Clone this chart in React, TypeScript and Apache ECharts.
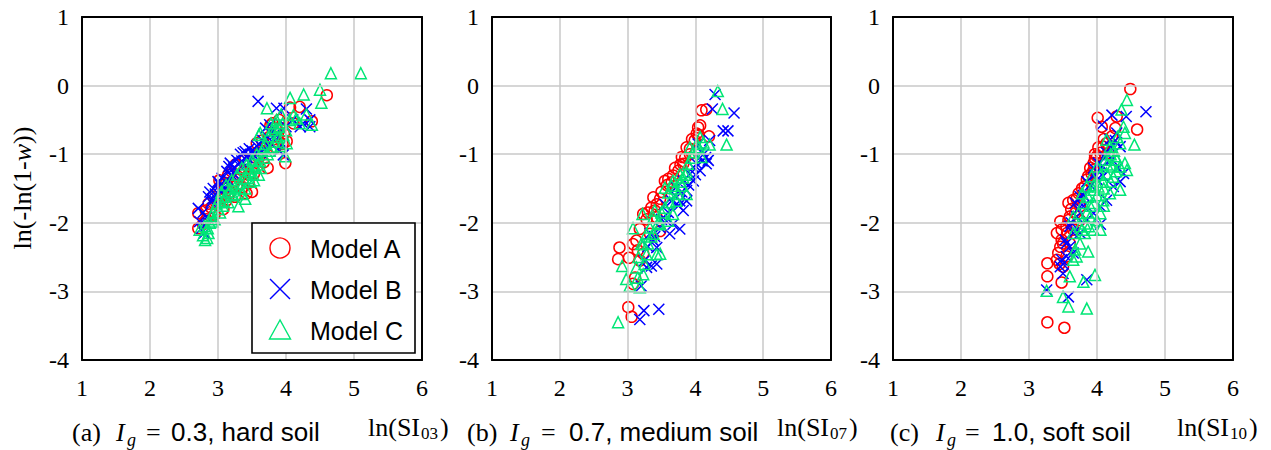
import React, { useEffect, useRef } from "react";
import * as echarts from "echarts";

// ---------- data ----------
const X_MIN = 1, X_MAX = 6, Y_MIN = -4, Y_MAX = 1, TICK_STEP = 1;

const PANEL_LETTERS = ["(a)", "(b)", "(c)"];
const IG_VALUES = ["0.3", "0.7", "1.0"];
const SOIL_LABELS = ["hard soil", "medium soil", "soft soil"];
const SI_SUBSCRIPTS = ["03", "07", "10"];
const MODEL_NAMES = ["Model A", "Model B", "Model C"];

// Panel (a) Ig = 0.3
const modelA_a = [
  [2.71, -1.86], [2.71, -2.08], [2.78, -2.02], [2.83, -1.95], [2.86, -1.72], [2.9, -1.78], [2.93, -1.62], [2.97, -1.7],
  [3.0, -1.52], [3.02, -1.38], [3.05, -1.6], [3.08, -1.8], [3.1, -1.5], [3.12, -1.42], [3.15, -1.3], [3.18, -1.55],
  [3.2, -1.25], [3.23, -1.4], [3.26, -1.15], [3.3, -1.33], [3.33, -1.22], [3.36, -1.48], [3.4, -1.08], [3.42, -1.57],
  [3.45, -1.3], [3.48, -1.0], [3.5, -1.2], [3.53, -1.28], [3.57, -0.84], [3.6, -1.05], [3.63, -0.95], [3.67, -1.12],
  [3.7, -0.9], [3.73, -1.2], [3.77, -0.58], [3.8, -0.55], [3.82, -0.78], [3.85, -0.9], [3.88, -0.7], [3.92, -0.62],
  [3.95, -0.85], [3.99, -1.13], [4.01, -0.81], [4.06, -0.32], [4.11, -0.55], [4.2, -0.31], [4.38, -0.52], [4.6, -0.14],
  [3.5, -1.55], [3.25, -1.62], [2.95, -1.88], [3.05, -1.45], [3.15, -1.62], [3.28, -1.45], [3.38, -1.25], [3.55, -1.1],
  [3.65, -0.8], [3.75, -0.75], [3.85, -0.62], [3.9, -0.5], [3.97, -0.7], [2.82, -1.82], [3.12, -1.68], [3.45, -1.42],
];
const modelB_a = [
  [2.71, -1.79], [2.73, -1.98], [2.76, -2.08], [2.8, -2.15], [2.83, -1.92], [2.86, -1.62], [2.88, -1.55], [2.9, -1.7],
  [2.93, -1.5], [2.96, -1.58], [3.0, -1.4], [3.03, -1.45], [3.06, -1.35], [3.1, -1.48], [3.13, -1.25], [3.16, -1.18],
  [3.18, -1.13], [3.2, -1.3], [3.23, -1.2], [3.27, -1.08], [3.3, -1.15], [3.33, -1.0], [3.37, -0.98], [3.4, -0.96],
  [3.43, -1.05], [3.46, -0.92], [3.5, -0.95], [3.53, -1.02], [3.57, -0.88], [3.6, -0.85], [3.63, -0.98], [3.66, -0.8],
  [3.7, -0.62], [3.73, -0.75], [3.59, -0.23], [3.86, -0.33], [3.97, -0.33], [3.96, -1.01], [4.21, -0.6], [4.3, -0.34],
  [4.35, -0.5], [4.35, -0.6], [4.25, -0.55], [3.9, -0.95], [3.8, -0.68], [3.76, -0.57], [2.78, -1.85], [2.92, -1.65],
  [3.05, -1.55], [3.15, -1.38], [3.25, -1.3], [3.35, -1.1], [3.45, -1.12], [3.55, -0.98], [3.68, -0.92], [3.78, -0.85],
  [3.85, -0.7], [3.95, -0.85], [4.0, -0.6], [4.1, -0.5],
];
const modelC_a = [
  [2.73, -2.1], [2.78, -2.18], [2.81, -2.25], [2.84, -2.22], [2.86, -2.15], [2.8, -2.05], [2.88, -2.0], [2.9, -1.9],
  [2.93, -1.85], [2.95, -1.95], [2.98, -1.72], [3.0, -1.8], [3.02, -1.65], [3.05, -1.55], [3.07, -1.75], [3.1, -1.62],
  [3.12, -1.45], [3.15, -1.7], [3.17, -1.55], [3.2, -1.38], [3.22, -1.6], [3.25, -1.48], [3.28, -1.3], [3.3, -1.76],
  [3.32, -1.42], [3.35, -1.2], [3.38, -1.35], [3.4, -1.5], [3.42, -1.15], [3.45, -1.25], [3.48, -1.4], [3.5, -1.08],
  [3.52, -1.3], [3.55, -1.18], [3.57, -1.0], [3.6, -0.72], [3.62, -1.1], [3.65, -0.95], [3.68, -1.05], [3.7, -0.85],
  [3.72, -0.33], [3.74, -0.74], [3.76, -0.95], [3.78, -0.55], [3.8, -0.65], [3.83, -0.82], [3.86, -0.5], [3.9, -0.6],
  [3.93, -0.42], [3.96, -0.72], [4.01, -0.84], [3.99, -1.03], [4.06, -0.18], [4.11, -0.43], [4.15, -0.48], [4.26, -0.13],
  [4.38, -0.57], [4.5, -0.06], [4.52, -0.25], [4.66, 0.18], [5.1, 0.18], [3.4, -1.65], [3.6, -1.3], [3.35, -1.58],
  [3.62, -0.69], [2.85, -2.08], [2.92, -1.98], [3.03, -1.85], [3.08, -1.68], [3.18, -1.5], [3.27, -1.58], [3.33, -1.5],
  [3.43, -1.35], [3.47, -1.2], [3.53, -1.38], [3.58, -1.15], [3.63, -1.2], [3.67, -0.9], [3.73, -1.0], [3.8, -0.9],
  [3.85, -0.62], [3.88, -0.75], [3.92, -0.88], [3.95, -0.55], [4.0, -0.65], [4.05, -0.5], [4.2, -0.55], [4.3, -0.42],
];

// Panel (b) Ig = 0.7
const modelA_b = [
  [2.88, -2.36], [2.86, -2.53], [3.01, -3.23], [3.06, -3.37], [3.02, -2.51], [3.08, -2.31], [3.13, -2.26], [3.18, -2.09],
  [3.23, -1.87], [3.3, -1.85], [3.35, -1.78], [3.38, -1.63], [3.43, -1.73], [3.48, -1.65], [3.55, -1.39], [3.6, -1.36],
  [3.67, -1.31], [3.75, -1.24], [3.8, -1.04], [3.87, -0.9], [3.92, -0.92], [4.04, -0.61], [4.07, -0.58], [4.09, -0.36],
  [4.16, -0.35], [4.2, -0.74], [3.08, -2.89], [3.11, -2.8], [3.18, -2.55], [3.23, -2.45], [3.33, -2.16], [3.43, -1.92],
  [3.48, -2.12], [3.65, -1.41], [3.82, -1.14], [3.92, -1.0], [3.99, -0.8], [4.02, -0.7], [3.28, -1.95], [3.4, -1.82],
  [3.5, -1.55], [3.58, -1.45], [3.7, -1.2], [3.78, -1.15], [3.85, -1.05], [3.95, -0.78], [4.05, -0.72], [3.15, -2.4],
];
const modelB_b = [
  [4.29, -0.13], [4.25, -0.34], [4.57, -0.4], [4.41, -0.66], [4.48, -0.66], [3.18, -3.41], [3.24, -3.28], [3.46, -3.26],
  [3.2, -2.92], [3.28, -2.65], [3.35, -2.63], [3.43, -2.6], [3.62, -2.16], [3.77, -2.09], [3.67, -2.02], [3.57, -1.97],
  [3.38, -2.26], [3.48, -2.07], [3.82, -1.82], [3.77, -1.68], [3.87, -1.53], [3.97, -1.39], [4.07, -1.24], [4.16, -1.14],
  [4.19, -1.09], [4.12, -1.0], [4.04, -0.85], [4.21, -0.8], [3.65, -1.68], [3.72, -1.48], [3.82, -1.39], [3.92, -1.29],
  [4.02, -1.14], [3.33, -2.16], [3.43, -2.36], [3.55, -1.73], [3.87, -1.68], [3.97, -1.19], [4.09, -0.95], [3.3, -2.35],
  [3.4, -2.2], [3.5, -1.95], [3.6, -1.85], [3.7, -1.6], [3.8, -1.55], [3.9, -1.45], [4.0, -1.3], [4.1, -1.1],
  [4.15, -1.05], [3.75, -1.75], [3.25, -2.55],
];
const modelC_b = [
  [4.33, -0.08], [4.4, -0.34], [4.46, -0.86], [4.21, -0.86], [3.08, -2.08], [2.92, -2.63], [2.98, -2.82], [2.86, -3.45],
  [3.03, -2.92], [3.18, -2.94], [3.13, -2.65], [3.23, -2.75], [3.16, -2.5], [3.23, -2.31], [3.28, -2.16], [3.33, -2.07],
  [3.38, -1.92], [3.4, -1.82], [3.22, -1.87], [3.43, -2.46], [3.48, -2.45], [3.48, -2.02], [3.55, -1.78], [3.6, -1.56],
  [3.65, -1.46], [3.67, -1.87], [3.72, -1.68], [3.75, -1.58], [3.8, -1.46], [3.82, -1.34], [3.87, -1.26], [3.89, -1.14],
  [3.92, -0.9], [3.97, -0.97], [4.02, -0.85], [4.07, -0.75], [4.12, -0.83], [3.67, -1.39], [3.77, -1.29], [3.87, -1.58],
  [3.55, -1.49], [3.38, -2.16], [3.2, -2.31], [3.28, -2.46], [4.09, -1.04], [3.6, -1.97], [3.3, -2.3], [3.35, -2.2],
  [3.45, -2.0], [3.5, -1.85], [3.62, -1.7], [3.7, -1.5], [3.78, -1.4], [3.85, -1.3], [3.95, -1.05], [4.05, -0.9],
  [3.25, -2.6], [3.15, -2.8],
];

// Panel (c) Ig = 1.0
const modelA_c = [
  [4.49, -0.05], [4.59, -0.64], [4.01, -0.47], [4.07, -0.6], [3.27, -2.59], [3.27, -2.78], [3.27, -3.45], [3.52, -3.53],
  [3.48, -2.87], [3.46, -1.98], [3.48, -2.1], [3.58, -1.71], [3.65, -1.67], [3.73, -1.57], [3.85, -1.37], [3.95, -1.13],
  [3.97, -1.06], [3.95, -1.23], [4.14, -0.84], [4.22, -0.74], [4.27, -0.62], [4.29, -0.45], [3.46, -2.35], [3.43, -2.44],
  [3.41, -2.54], [3.48, -2.25], [3.56, -2.15], [3.6, -1.91], [3.68, -1.86], [3.75, -1.76], [3.82, -1.47], [3.87, -1.32],
  [4.0, -1.03], [4.05, -0.98], [4.09, -0.89], [3.65, -2.1], [3.55, -2.49], [3.5, -2.64], [3.41, -2.15], [3.58, -1.96],
  [3.75, -1.96], [3.92, -1.28], [4.17, -0.98], [3.5, -2.3], [3.55, -2.05], [3.62, -1.8], [3.7, -1.65], [3.78, -1.5],
  [3.9, -1.2], [3.97, -1.0], [4.02, -0.9], [4.1, -0.78], [3.45, -2.6], [3.6, -2.3],
];
const modelB_c = [
  [4.72, -0.38], [4.22, -0.43], [4.43, -0.45], [4.07, -0.57], [3.26, -2.98], [3.58, -3.08], [3.85, -2.83], [4.05, -2.02],
  [3.46, -2.64], [3.5, -2.74], [3.55, -2.49], [3.6, -2.35], [3.65, -2.15], [3.6, -2.05], [3.68, -1.71], [3.75, -1.62],
  [3.85, -1.4], [3.95, -1.2], [4.02, -1.13], [4.09, -1.18], [4.14, -0.98], [4.19, -0.79], [4.29, -0.69], [4.34, -0.89],
  [4.39, -1.28], [4.34, -1.4], [4.24, -1.47], [4.14, -1.67], [4.05, -1.76], [3.95, -1.86], [3.85, -1.96], [3.75, -2.15],
  [3.7, -1.91], [3.8, -1.76], [4.0, -1.37], [4.09, -1.32], [4.22, -1.08], [3.53, -2.25], [3.48, -2.54], [3.65, -2.44],
  [3.55, -2.3], [3.62, -2.0], [3.72, -1.8], [3.8, -1.6], [3.9, -1.45], [3.97, -1.3], [4.05, -1.2], [4.12, -1.05],
  [4.2, -0.9], [4.27, -0.8], [3.5, -2.6], [4.3, -1.2],
];
const modelC_c = [
  [4.44, -0.21], [4.36, -0.35], [4.39, -0.6], [4.41, -0.69], [4.55, -0.86], [4.34, -0.84], [4.41, -1.13], [4.44, -1.23],
  [4.34, -1.52], [3.26, -2.99], [3.5, -3.08], [3.58, -3.22], [3.85, -3.25], [3.97, -2.76], [3.8, -2.86], [3.6, -2.78],
  [3.65, -2.54], [3.7, -2.49], [3.87, -2.42], [3.75, -2.3], [3.82, -2.15], [3.95, -2.1], [4.05, -2.1], [3.65, -1.91],
  [3.73, -1.86], [3.8, -1.71], [3.87, -1.62], [3.95, -1.52], [4.02, -1.47], [4.09, -1.4], [4.14, -1.28], [4.22, -1.18],
  [4.27, -1.03], [4.19, -0.89], [4.14, -0.79], [4.0, -1.18], [3.92, -1.32], [3.85, -1.47], [3.78, -1.57], [3.95, -1.71],
  [4.09, -1.67], [4.19, -1.57], [4.24, -1.33], [4.29, -1.08], [4.05, -1.86], [3.9, -1.91], [3.82, -2.01], [4.0, -1.96],
  [3.65, -2.15], [3.75, -2.05], [3.68, -2.39], [4.12, -1.08], [4.34, -1.18], [3.9, -1.75], [4.0, -1.6], [4.1, -1.5],
  [4.2, -1.4], [4.28, -1.25], [3.85, -1.85], [3.95, -1.45], [4.05, -1.3], [4.15, -1.15], [4.25, -0.95], [3.78, -2.1],
  [3.88, -2.05], [4.1, -1.75], [4.3, -0.75], [4.2, -1.0],
];

const PANELS = [
  [modelA_a, modelB_a, modelC_a],
  [modelA_b, modelB_b, modelC_b],
  [modelA_c, modelB_c, modelC_c],
];

// ---------- styling ----------
const SERIF = "Liberation Serif";
const SANS = "Liberation Sans";
const RED = "#ff0000";
const BLUE = "#0000ff";
const GREEN = "#00e676";
const COLORS = [RED, BLUE, GREEN];
const CROSS = "path://M0,0L10,10M10,0L0,10";
const SYMBOLS = ["circle", CROSS, "triangle"];

const GRID_LEFTS = [82, 492, 893];
const GRID_WIDTHS = [340, 339, 340];
const GRID_TOP = 17;
const GRID_HEIGHT = 343;

function txt(x: number, y: number, text: string, font: string, size: number, italic = false, z = 100) {
  return {
    type: "text",
    x,
    y,
    z,
    style: {
      text,
      fontFamily: font,
      fontSize: size,
      fontStyle: italic ? "italic" : "normal",
      fontWeight: "normal",
      fill: "#000",
      textAlign: "left",
      textVerticalAlign: "middle",
    },
  };
}

function buildCaption(i: number): any[] {
  const xs = [
    { letter: 72, I: 116, g: 127, eq: 146, rest: 171, ln: 368 },
    { letter: 467, I: 510, g: 521, eq: 541, rest: 569, ln: 777 },
    { letter: 890, I: 936, g: 947, eq: 965, rest: 992, ln: 1177 },
  ][i];
  const cy = 432;
  return [
    txt(xs.letter, cy, PANEL_LETTERS[i], SERIF, 26),
    txt(xs.I, cy, "I", SERIF, 26, true),
    txt(xs.g, cy + 8, "g", SERIF, 18, true),
    txt(xs.eq, cy, "=", SERIF, 26),
    txt(xs.rest, cy, IG_VALUES[i] + ", " + SOIL_LABELS[i], SANS, 26),
    txt(xs.ln, 427, "ln(SI", SERIF, 26),
    txt(xs.ln + 53, 433, SI_SUBSCRIPTS[i], SERIF, 17),
    txt(xs.ln + 72, 427, ")", SERIF, 26),
  ];
}

function buildYTitle(): any[] {
  return [
    {
      type: "text",
      x: 22,
      y: 188,
      rotation: Math.PI / 2,
      z: 100,
      style: {
        text: "{n|ln(-ln(1-}{i|w}{n|))}",
        textAlign: "center",
        textVerticalAlign: "middle",
        fill: "#000",
        rich: {
          n: { fontFamily: SERIF, fontSize: 26, fontStyle: "normal", fontWeight: "normal", fill: "#000" },
          i: { fontFamily: SERIF, fontSize: 26, fontStyle: "italic", fontWeight: "normal", fill: "#000" },
        },
      },
    },
  ];
}

function buildLegend(): any[] {
  const els: any[] = [
    {
      type: "rect",
      z: 100,
      shape: { x: 252, y: 223, width: 163, height: 130 },
      style: { fill: "#fff", stroke: "#000", lineWidth: 1.6 },
    },
    {
      type: "circle",
      z: 101,
      shape: { cx: 280, cy: 248, r: 10 },
      style: { fill: "none", stroke: RED, lineWidth: 1.4 },
    },
    {
      type: "line",
      z: 101,
      shape: { x1: 270, y1: 279, x2: 290, y2: 299 },
      style: { stroke: BLUE, lineWidth: 1.4 },
    },
    {
      type: "line",
      z: 101,
      shape: { x1: 270, y1: 299, x2: 290, y2: 279 },
      style: { stroke: BLUE, lineWidth: 1.4 },
    },
    {
      type: "polygon",
      z: 101,
      shape: { points: [[280, 320], [269.5, 339], [290.5, 339]] },
      style: { fill: "none", stroke: GREEN, lineWidth: 1.4 },
    },
  ];
  const ys = [249, 290, 331];
  MODEL_NAMES.forEach((n, k) => {
    els.push(txt(310, ys[k], n, SANS, 25, false, 101));
  });
  return els;
}

export default function App() {
  const ref = useRef<HTMLDivElement>(null);
  useEffect(() => {
    if (!ref.current) return;
    const chart = echarts.init(ref.current, undefined, { renderer: "svg" });

    const grids = GRID_LEFTS.map((l, i) => ({
      left: l,
      top: GRID_TOP,
      width: GRID_WIDTHS[i],
      height: GRID_HEIGHT,
      show: false,
    }));
    const labelStyle = {
      fontFamily: SERIF,
      fontSize: 24,
      fontStyle: "normal",
      fontWeight: "normal",
      color: "#000",
    };
    const frameLine = { show: true, onZero: false, lineStyle: { color: "#000", width: 2 } };
    const grayLine = { show: true, lineStyle: { color: "#c8c8c8", width: 1.5 } };

    const xAxes: any[] = [];
    const yAxes: any[] = [];
    GRID_LEFTS.forEach((_, i) => {
      xAxes.push({
        gridIndex: i,
        type: "value",
        position: "bottom",
        min: X_MIN,
        max: X_MAX,
        interval: TICK_STEP,
        axisLine: frameLine,
        axisTick: { show: false },
        splitLine: grayLine,
        axisLabel: { ...labelStyle, margin: 16 },
        z: 5,
      });
      yAxes.push({
        gridIndex: i,
        type: "value",
        position: "left",
        min: Y_MIN,
        max: Y_MAX,
        interval: TICK_STEP,
        axisLine: frameLine,
        axisTick: { show: false },
        splitLine: grayLine,
        axisLabel: { ...labelStyle, margin: 13 },
        z: 5,
      });
    });
    // top and right frame edges
    GRID_LEFTS.forEach((_, i) => {
      xAxes.push({
        gridIndex: i,
        type: "value",
        position: "top",
        min: X_MIN,
        max: X_MAX,
        interval: TICK_STEP,
        axisLine: frameLine,
        axisTick: { show: false },
        splitLine: { show: false },
        axisLabel: { show: false },
        z: 5,
      });
      yAxes.push({
        gridIndex: i,
        type: "value",
        position: "right",
        min: Y_MIN,
        max: Y_MAX,
        interval: TICK_STEP,
        axisLine: frameLine,
        axisTick: { show: false },
        splitLine: { show: false },
        axisLabel: { show: false },
        z: 5,
      });
    });

    const series: any[] = [];
    PANELS.forEach((panel, p) => {
      panel.forEach((data, m) => {
        series.push({
          type: "scatter",
          name: MODEL_NAMES[m],
          xAxisIndex: p,
          yAxisIndex: p,
          data,
          symbol: SYMBOLS[m],
          symbolSize: 11,
          silent: true,
          itemStyle: {
            color: "rgba(0,0,0,0)",
            borderColor: COLORS[m],
            borderWidth: 1.5,
            opacity: 1,
          },
          z: 2 + m,
        });
      });
    });

    const graphic = [
      ...buildLegend(),
      ...buildYTitle(),
      ...buildCaption(0),
      ...buildCaption(1),
      ...buildCaption(2),
    ];

    chart.setOption({
      animation: false,
      backgroundColor: "#fff",
      textStyle: { fontFamily: SERIF, fontSize: 24, color: "#000" },
      grid: grids,
      xAxis: xAxes,
      yAxis: yAxes,
      series,
      graphic,
    });
    return () => chart.dispose();
  }, []);

  return (
    <div
      ref={ref}
      style={{ position: "fixed", left: 0, top: 0, width: 1271, height: 450, background: "#fff" }}
    />
  );
}
